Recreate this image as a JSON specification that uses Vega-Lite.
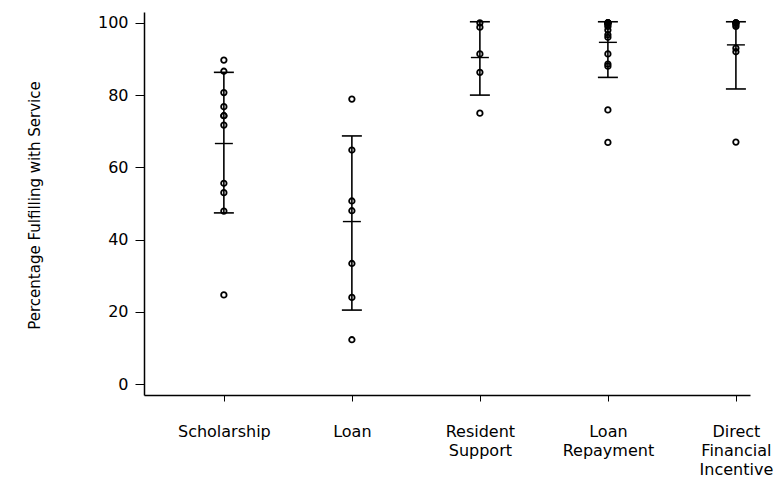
{
  "$schema": "https://vega.github.io/schema/vega-lite/v6.json",
  "width": 606,
  "height": 383,
  "autosize": "none",
  "padding": {"left": 144, "top": 12, "right": 25, "bottom": 84},
  "background": "white",
  "config": {
    "view": {"stroke": null},
    "font": "DejaVu Sans",
    "axis": {
      "domainColor": "black",
      "domainWidth": 1.5,
      "tickColor": "black",
      "labelColor": "black",
      "titleColor": "black",
      "grid": false
    }
  },
  "datasets": {
    "points": [
      {"category": "Scholarship", "pct": 89.7},
      {"category": "Scholarship", "pct": 86.6},
      {"category": "Scholarship", "pct": 80.7},
      {"category": "Scholarship", "pct": 76.8},
      {"category": "Scholarship", "pct": 74.3},
      {"category": "Scholarship", "pct": 74.3},
      {"category": "Scholarship", "pct": 71.7},
      {"category": "Scholarship", "pct": 55.6},
      {"category": "Scholarship", "pct": 53.0},
      {"category": "Scholarship", "pct": 47.9},
      {"category": "Scholarship", "pct": 24.7},
      {"category": "Loan", "pct": 78.9},
      {"category": "Loan", "pct": 64.8},
      {"category": "Loan", "pct": 50.7},
      {"category": "Loan", "pct": 48.0},
      {"category": "Loan", "pct": 33.4},
      {"category": "Loan", "pct": 24.0},
      {"category": "Loan", "pct": 12.3},
      {"category": "Resident Support", "pct": 100},
      {"category": "Resident Support", "pct": 98.8},
      {"category": "Resident Support", "pct": 91.4},
      {"category": "Resident Support", "pct": 86.3},
      {"category": "Resident Support", "pct": 75.0},
      {"category": "Loan Repayment", "pct": 100},
      {"category": "Loan Repayment", "pct": 100},
      {"category": "Loan Repayment", "pct": 100},
      {"category": "Loan Repayment", "pct": 100},
      {"category": "Loan Repayment", "pct": 100},
      {"category": "Loan Repayment", "pct": 99.5},
      {"category": "Loan Repayment", "pct": 99.0},
      {"category": "Loan Repayment", "pct": 98.0},
      {"category": "Loan Repayment", "pct": 96.7},
      {"category": "Loan Repayment", "pct": 96.0},
      {"category": "Loan Repayment", "pct": 91.4},
      {"category": "Loan Repayment", "pct": 88.6},
      {"category": "Loan Repayment", "pct": 88.0},
      {"category": "Loan Repayment", "pct": 75.9},
      {"category": "Loan Repayment", "pct": 66.9},
      {"category": "Direct Financial Incentive", "pct": 100},
      {"category": "Direct Financial Incentive", "pct": 100},
      {"category": "Direct Financial Incentive", "pct": 100},
      {"category": "Direct Financial Incentive", "pct": 99.5},
      {"category": "Direct Financial Incentive", "pct": 99.0},
      {"category": "Direct Financial Incentive", "pct": 93.0},
      {"category": "Direct Financial Incentive", "pct": 92.0},
      {"category": "Direct Financial Incentive", "pct": 67.0}
    ],
    "summary": [
      {"category": "Scholarship", "mean": 66.6, "lo": 47.4, "hi": 86.3},
      {"category": "Loan", "mean": 45.0, "lo": 20.5, "hi": 68.7},
      {"category": "Resident Support", "mean": 90.4, "lo": 80.0, "hi": 100.3},
      {"category": "Loan Repayment", "mean": 94.6, "lo": 84.9, "hi": 100.3},
      {"category": "Direct Financial Incentive", "mean": 93.9, "lo": 81.7, "hi": 100.3}
    ]
  },
  "encoding": {
    "x": {
      "field": "category",
      "type": "nominal",
      "scale": {
        "type": "point",
        "domain": ["Scholarship", "Loan", "Resident Support", "Loan Repayment", "Direct Financial Incentive"],
        "padding": 0.367,
        "align": 0.85
      },
      "axis": {
        "title": null,
        "labelExpr": "split(datum.label, ' ')",
        "labelAngle": 0,
        "labelBaseline": "top",
        "tickSize": 6,
        "labelPadding": 22,
        "labelFontSize": 16,
        "labelLineHeight": 19
      }
    }
  },
  "layer": [
    {
      "data": {"name": "summary"},
      "mark": {"type": "rule", "stroke": "black", "strokeWidth": 1.6},
      "encoding": {
        "y": {
          "field": "lo",
          "type": "quantitative",
          "scale": {"domain": [-3, 103], "nice": false, "zero": false},
          "axis": {
            "title": "Percentage Fulfilling with Service",
            "values": [0, 20, 40, 60, 80, 100],
            "tickSize": 9,
            "labelPadding": 7,
            "labelFontSize": 16,
            "titleFontSize": 15,
            "titleFontWeight": "normal",
            "titleAngle": -90,
            "titleX": -110,
            "titleY": 193,
            "titleAlign": "center",
            "titleBaseline": "middle"
          }
        },
        "y2": {"field": "hi"}
      }
    },
    {
      "data": {"name": "summary"},
      "mark": {"type": "tick", "color": "black", "thickness": 1.6, "opacity": 1},
      "encoding": {"y": {"field": "lo", "type": "quantitative"}, "size": {"value": 20}}
    },
    {
      "data": {"name": "summary"},
      "mark": {"type": "tick", "color": "black", "thickness": 1.6, "opacity": 1},
      "encoding": {"y": {"field": "hi", "type": "quantitative"}, "size": {"value": 20}}
    },
    {
      "data": {"name": "summary"},
      "mark": {"type": "tick", "color": "black", "thickness": 1.4, "opacity": 1},
      "encoding": {"y": {"field": "mean", "type": "quantitative"}, "size": {"value": 18}}
    },
    {
      "data": {"name": "points"},
      "mark": {"type": "point", "shape": "circle", "filled": false, "stroke": "black", "strokeWidth": 1.8, "size": 30, "opacity": 1},
      "encoding": {"y": {"field": "pct", "type": "quantitative"}}
    }
  ]
}
